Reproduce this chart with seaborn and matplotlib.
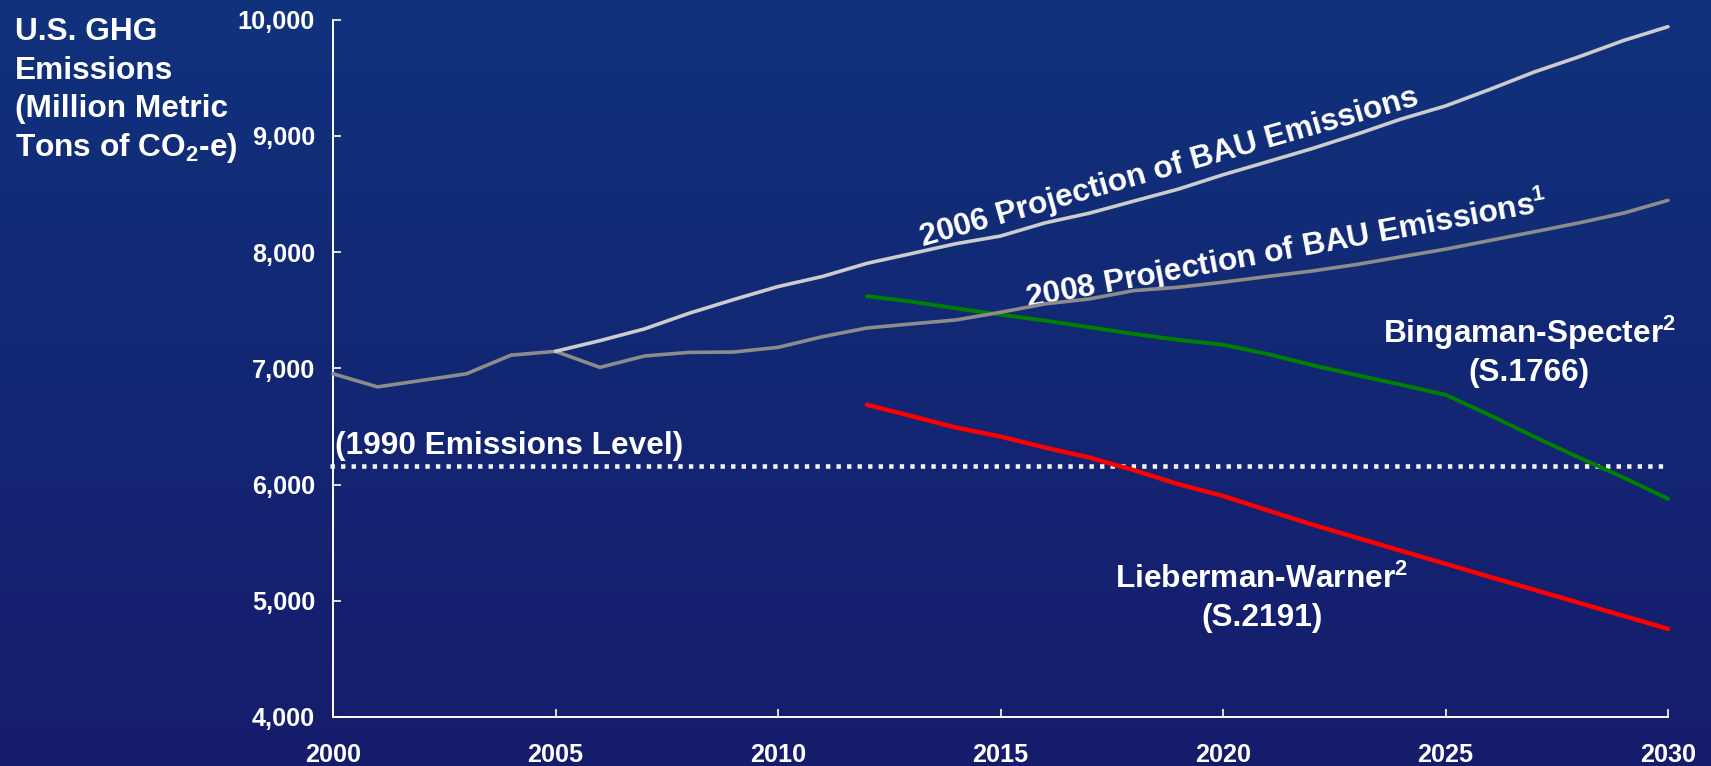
import numpy as np
import pandas as pd
import matplotlib
matplotlib.use("Agg")
import matplotlib.pyplot as plt
from matplotlib.colors import LinearSegmentedColormap
import seaborn as sns

# ---------------- data ----------------
years_2008 = list(range(2000, 2031))
bau_2008 = [6953, 6840, 6896, 6953, 7113, 7146, 7008, 7106, 7137, 7140,
            7180, 7272, 7347, 7382, 7416, 7482, 7554, 7597, 7669, 7697,
            7741, 7790, 7837, 7893, 7959, 8025, 8100, 8175, 8251, 8335, 8445]

years_2006 = list(range(2005, 2031))
bau_2006 = [7146, 7238, 7339, 7473, 7591, 7703, 7790, 7903, 7987, 8072,
            8138, 8251, 8335, 8439, 8542, 8665, 8777, 8890, 9013, 9144,
            9257, 9400, 9550, 9680, 9820, 9939]

years_policy = list(range(2012, 2031))
bingaman = [7620, 7574, 7516, 7462, 7410, 7353, 7296, 7244, 7203, 7123,
            7028, 6942, 6859, 6772, 6597, 6410, 6232, 6060, 5878]
lieberman = [6686, 6589, 6490, 6413, 6318, 6232, 6123, 6003, 5902, 5778,
             5656, 5543, 5430, 5318, 5205, 5094, 4982, 4870, 4758]

level_1990 = 6160

xticks = [2000, 2005, 2010, 2015, 2020, 2025, 2030]
xtick_labels = ["2000", "2005", "2010", "2015", "2020", "2025", "2030"]
yticks = [4000, 5000, 6000, 7000, 8000, 9000, 10000]
ytick_labels = ["4,000", "5,000", "6,000", "7,000", "8,000", "9,000", "10,000"]

# ---------------- style ----------------
sns.set_style("ticks")
plt.rcParams["font.family"] = ["Liberation Sans", "DejaVu Sans"]
plt.rcParams["font.weight"] = "bold"
plt.rcParams["mathtext.fontset"] = "custom"
plt.rcParams["mathtext.default"] = "regular"

W, H = 1711, 766
fig = plt.figure(figsize=(W / 100, H / 100), dpi=100)

# gradient background
bg = fig.add_axes([0, 0, 1, 1], zorder=0)
grad = np.linspace(0, 1, 256)[:, None]
cmap = LinearSegmentedColormap.from_list("bg", ["#10327c", "#161c6c"])
bg.imshow(grad, aspect="auto", cmap=cmap, extent=[0, 1, 0, 1], origin="upper")
bg.axis("off")

left, right, top, bottom = 333, 1668, 19.6, 717
ax = fig.add_axes([left / W, 1 - bottom / H, (right - left) / W, (bottom - top) / H], zorder=1)
ax.patch.set_alpha(0)

# 1990 level dotted line
ax.plot([1999.93, 2030.0], [level_1990, level_1990], color="#f4f4f4", lw=3.3,
        linestyle=(0, (0.95, 1.35)), dash_capstyle="butt", clip_on=False, zorder=2)

df_g = pd.DataFrame({"year": years_policy, "value": bingaman})
df_r = pd.DataFrame({"year": years_policy, "value": lieberman})
df_08 = pd.DataFrame({"year": years_2008, "value": bau_2008})
df_06 = pd.DataFrame({"year": years_2006, "value": bau_2006})

sns.lineplot(data=df_g, x="year", y="value", ax=ax, color="#008000", lw=2.8, zorder=3)
sns.lineplot(data=df_r, x="year", y="value", ax=ax, color="#ff0000", lw=3.2, zorder=3)
sns.lineplot(data=df_08, x="year", y="value", ax=ax, color="#8c8c8c", lw=2.6, zorder=4)
sns.lineplot(data=df_06, x="year", y="value", ax=ax, color="#cccccc", lw=2.6, zorder=5)
for ln in ax.lines:
    ln.set_clip_on(False)

ax.set_xlim(2000, 2030)
ax.set_ylim(4000, 10000)
ax.set_xticks(xticks, labels=xtick_labels)
ax.set_yticks(yticks, labels=ytick_labels)
ax.set_xlabel("")
ax.set_ylabel("")
sns.despine(ax=ax)
for s in ("left", "bottom"):
    ax.spines[s].set_color("white")
    ax.spines[s].set_linewidth(1.4)
ax.tick_params(axis="both", direction="in", length=6, width=1.2, color="white",
               labelcolor="white", labelsize=18.2)
ax.tick_params(axis="y", pad=13)
ax.tick_params(axis="x", pad=19)
for lab in ax.get_xticklabels() + ax.get_yticklabels():
    lab.set_fontweight("bold")

fs = 22.8
# y-axis title (upper left)
title_lines = ["U.S. GHG", "Emissions", "(Million Metric", "Tons of CO$_2$-e)"]
baselines = [40.5, 79, 117.5, 156]
for t, b in zip(title_lines, baselines):
    fig.text(15 / W, 1 - b / H, t, color="white", fontsize=fs, fontweight="bold",
             ha="left", va="baseline")

# annotations
ax.text(2013.26, 8048, "2006 Projection of BAU Emissions", color="white", fontsize=fs,
        fontweight="bold", rotation=15.9, rotation_mode="anchor", ha="left", va="baseline")
ax.text(2015.6, 7514, "2008 Projection of BAU Emissions$^1$", color="white", fontsize=fs,
        fontweight="bold", rotation=10.5, rotation_mode="anchor", ha="left", va="baseline")
ax.text(2026.88, 7221, "Bingaman-Specter$^2$", color="white", fontsize=fs,
        fontweight="bold", ha="center", va="baseline")
ax.text(2026.88, 6893, "(S.1766)", color="white", fontsize=fs,
        fontweight="bold", ha="center", va="baseline")
ax.text(2020.87, 5111, "Lieberman-Warner$^2$", color="white", fontsize=fs,
        fontweight="bold", ha="center", va="baseline")
ax.text(2020.87, 4781, "(S.2191)", color="white", fontsize=fs,
        fontweight="bold", ha="center", va="baseline")
ax.text(2000.05, 6261, "(1990 Emissions Level)", color="white", fontsize=fs,
        fontweight="bold", ha="left", va="baseline")

fig.savefig("out.png", dpi=100)
